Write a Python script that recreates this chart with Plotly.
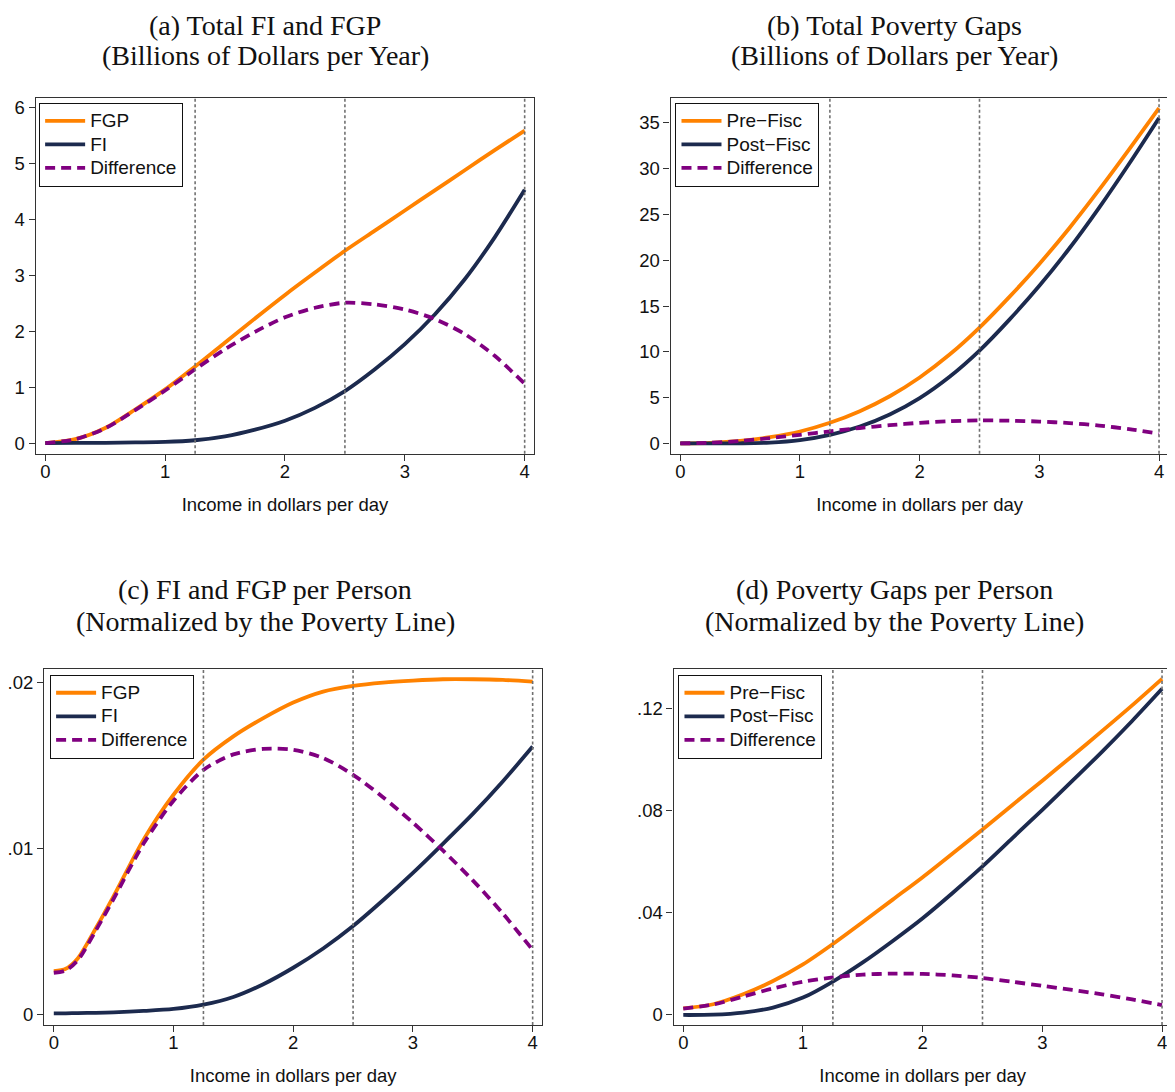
import plotly.graph_objects as go

# ---------------- data ----------------
x_steps = [0, 0.25, 0.5, 0.75, 1, 1.25, 1.5, 1.75, 2, 2.25, 2.5, 2.75, 3, 3.25, 3.5, 3.75, 4]
x_steps_c = [0, 0.1, 0.2, 0.35, 0.5, 0.75, 1, 1.25, 1.5, 1.75, 2, 2.25, 2.5, 2.75, 3, 3.25, 3.5, 3.75, 4]

# (a) Total FI and FGP (billions of dollars per year)
fgp_total = [0, 0.07, 0.27, 0.60, 0.96, 1.37, 1.80, 2.23, 2.65, 3.05, 3.44, 3.80, 4.16, 4.52, 4.88, 5.24, 5.59]
fi_total = [0, 0.002, 0.005, 0.012, 0.02, 0.05, 0.12, 0.24, 0.40, 0.63, 0.93, 1.32, 1.77, 2.30, 2.93, 3.68, 4.53]
diff_total = [0, 0.068, 0.265, 0.588, 0.94, 1.32, 1.68, 1.99, 2.25, 2.42, 2.51, 2.48, 2.39, 2.22, 1.95, 1.56, 1.06]

# (b) Total poverty gaps (billions of dollars per year)
pre_gap_total = [0, 0.07, 0.28, 0.68, 1.30, 2.25, 3.52, 5.15, 7.20, 9.70, 12.65, 16.0, 19.6, 23.5, 27.7, 32.1, 36.6]
post_gap_total = [0, 0.002, 0.015, 0.09, 0.36, 0.93, 1.84, 3.16, 4.95, 7.28, 10.14, 13.52, 17.21, 21.28, 25.75, 30.54, 35.54]
diff_gap_total = [0, 0.068, 0.265, 0.588, 0.94, 1.32, 1.68, 1.99, 2.25, 2.42, 2.51, 2.48, 2.39, 2.22, 1.95, 1.56, 1.06]

# (c) FI and FGP per person (normalized by the poverty line)
fgp_pp = [0.00264, 0.00278, 0.00340, 0.00520, 0.00715, 0.01055, 0.01325, 0.01536, 0.01676, 0.01786,
          0.01880, 0.01946, 0.01980, 0.02000, 0.02012, 0.02020, 0.02020, 0.02016, 0.02006]
fi_pp = [0.00010, 0.00010, 0.00011, 0.00013, 0.00016, 0.00024, 0.00036, 0.00062, 0.00108, 0.00185,
         0.00284, 0.00400, 0.00535, 0.00690, 0.00855, 0.01030, 0.01210, 0.01405, 0.01615]
diff_pp = [0.00254, 0.00268, 0.00329, 0.00507, 0.00699, 0.01031, 0.01289, 0.01474, 0.01568, 0.01601,
           0.01596, 0.01546, 0.01445, 0.01310, 0.01157, 0.00990, 0.00810, 0.00611, 0.00391]

# (d) Poverty gaps per person (normalized by the poverty line)
pre_gap_pp = [0.0026, 0.0042, 0.0081, 0.0133, 0.0198, 0.0278, 0.0364, 0.0452, 0.0540, 0.0633,
              0.0727, 0.0823, 0.0918, 0.1015, 0.1113, 0.1213, 0.1317]
post_gap_pp = [0.0000, 0.0001, 0.0009, 0.0029, 0.0068, 0.0131, 0.0206, 0.0290, 0.0379, 0.0478,
               0.0582, 0.0693, 0.0804, 0.0917, 0.1032, 0.1152, 0.1278]
diff_gap_pp = [0.0025, 0.0041, 0.0072, 0.0104, 0.0130, 0.0147, 0.0158, 0.0162, 0.0161, 0.0155,
               0.0145, 0.0130, 0.0114, 0.0098, 0.0081, 0.0061, 0.0039]

poverty_lines = [1.25, 2.5, 4.0]

x_ticks = [0, 1, 2, 3, 4]
y_ticks_a = [0, 1, 2, 3, 4, 5, 6]
y_ticks_b = [0, 5, 10, 15, 20, 25, 30, 35]
y_ticks_c = [0, 0.01, 0.02]
y_tick_labels_c = ["0", ".01", ".02"]
y_ticks_d = [0, 0.04, 0.08, 0.12]
y_tick_labels_d = ["0", ".04", ".08", ".12"]

titles = [
    ("(a) Total FI and FGP", "(Billions of Dollars per Year)"),
    ("(b) Total Poverty Gaps", "(Billions of Dollars per Year)"),
    ("(c) FI and FGP per Person", "(Normalized by the Poverty Line)"),
    ("(d) Poverty Gaps per Person", "(Normalized by the Poverty Line)"),
]
x_title = "Income in dollars per day"

# ---------------- styling / layout ----------------
OFF = 8                      # page body margin of the html page
W, H = 1175 - OFF, 1092 - OFF
ORANGE = "#FF8200"
NAVY = "#1C2A4E"
PURPLE = "#800080"
GRID_GRAY = "#707070"
FRAME = "#333333"
SANS = "Liberation Sans, Arial, sans-serif"
SERIF = "Liberation Serif, Times New Roman, serif"
LEG_TEXT = 19


def px_x(p):
    return (p - OFF) / W


def px_y(p):
    return 1 - (p - OFF) / H


# frame in page pixels: left, top, right, bottom ; axis ranges
panels = [
    dict(frame=(32.8, 97.3, 532.6, 453.5), yr=[-0.19, 6.17], ty=(24.5, 55)),
    dict(frame=(669.4, 97.3, 1168.6, 453.5), yr=[-1.12, 37.7], ty=(24.5, 55)),
    dict(frame=(41.3, 669.5, 540.6, 1025.8), yr=[-0.0006, 0.0208], ty=(590, 622)),
    dict(frame=(672.4, 669.5, 1171.6, 1025.8), yr=[-0.0039, 0.13545], ty=(590, 622)),
]
title_cx = [263, 894, 263, 893.5]
legend_pos = [(36, 102), (674, 102), (47, 675), (677, 675)]

fig = go.Figure()

series = [
    (x_steps, [fgp_total, fi_total, diff_total], ["FGP", "FI", "Difference"]),
    (x_steps, [pre_gap_total, post_gap_total, diff_gap_total], ["Pre\u2212Fisc", "Post\u2212Fisc", "Difference"]),
    (x_steps_c, [fgp_pp, fi_pp, diff_pp], ["FGP", "FI", "Difference"]),
    (x_steps, [pre_gap_pp, post_gap_pp, diff_gap_pp], ["Pre\u2212Fisc", "Post\u2212Fisc", "Difference"]),
]
styles = [
    dict(color=ORANGE, width=3.8, dash="solid"),
    dict(color=NAVY, width=3.8, dash="solid"),
    dict(color=PURPLE, width=3.8, dash="10px,6px"),
]

layout = dict(
    width=W, height=H,
    margin=dict(l=0, r=0, t=0, b=0),
    paper_bgcolor="white", plot_bgcolor="white",
    showlegend=True,
    shapes=[], annotations=[],
)

for i, (p, (xs, ys, names)) in enumerate(zip(panels, series)):
    k = "" if i == 0 else str(i + 1)
    xa, ya = "x" + k, "y" + k
    leg = "legend" + k
    for y, name, st in zip(ys, names, styles):
        fig.add_trace(go.Scatter(
            x=xs, y=y, mode="lines",
            name="<span style='font-size:%dpx'>%s</span>" % (LEG_TEXT, name),
            line=dict(color=st["color"], width=st["width"], dash=st["dash"], shape="spline", smoothing=0.8),
            xaxis=xa, yaxis=ya, legend=leg,
        ))
    l, t, r, b = p["frame"]
    common = dict(
        showline=True, mirror=True, linecolor=FRAME, linewidth=1.4,
        ticks="outside", ticklen=6, tickwidth=1.2, tickcolor=FRAME,
        showgrid=False, zeroline=False,
        tickfont=dict(family=SANS, size=18.5, color="#111111"),
    )
    layout["xaxis" + k] = dict(
        common, domain=[px_x(l), px_x(r)], anchor=ya, range=[-0.08, 4.08],
        tickmode="array", tickvals=x_ticks, ticktext=[str(v) for v in x_ticks],
        ticklabelstandoff=-5,
        title=dict(text=x_title, font=dict(family=SANS, size=18.5, color="#111111"), standoff=16),
    )
    if i == 0:
        ytv, ytt = y_ticks_a, [str(v) for v in y_ticks_a]
    elif i == 1:
        ytv, ytt = y_ticks_b, [str(v) for v in y_ticks_b]
    elif i == 2:
        ytv, ytt = y_ticks_c, y_tick_labels_c
    else:
        ytv, ytt = y_ticks_d, y_tick_labels_d
    layout["yaxis" + k] = dict(
        common, domain=[px_y(b), px_y(t)], anchor=xa, range=p["yr"],
        tickmode="array", tickvals=ytv, ticktext=ytt,
    )
    for pl in poverty_lines:
        layout["shapes"].append(dict(
            type="line", xref=xa, yref=ya + " domain", x0=pl, x1=pl, y0=0, y1=1,
            line=dict(color=GRID_GRAY, width=1.6, dash="3px,2.5px"), layer="above",
        ))
    lx, ly = legend_pos[i]
    layout[leg] = dict(
        x=px_x(lx), y=px_y(ly), xanchor="left", yanchor="top",
        bgcolor="white", bordercolor="#111111", borderwidth=1.2,
        font=dict(family=SANS, size=15.8, color="#111111"),
        tracegroupgap=0, itemwidth=40,
    )
    t1, t2 = titles[i]
    y1, y2 = p["ty"]
    for txt, yy in ((t1, y1), (t2, y2)):
        layout["annotations"].append(dict(
            text=txt, xref="paper", yref="paper", x=px_x(title_cx[i]), y=px_y(yy),
            xanchor="center", yanchor="middle", showarrow=False, borderpad=0,
            font=dict(family=SERIF, size=28, color="#111111"),
        ))

fig.update_layout(**layout)
fig.write_html("out.html")
